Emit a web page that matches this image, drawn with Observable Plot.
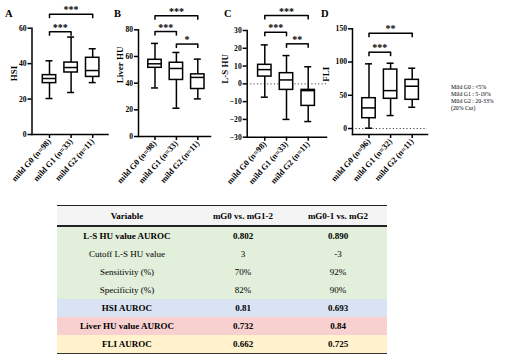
<!DOCTYPE html>
<html><head><meta charset="utf-8">
<script src="https://cdn.jsdelivr.net/npm/d3@7"></script>
<script src="https://cdn.jsdelivr.net/npm/@observablehq/plot@0.6"></script>
<style>
html,body{margin:0;padding:0;background:#fff;}
#root{position:relative;width:514px;height:361px;overflow:hidden;font-family:"Liberation Serif","Times New Roman",serif;color:#000;}
#root svg{position:absolute;left:0;top:0;}
.letter{position:absolute;font-weight:bold;font-size:10.5px;line-height:1;}
.legend{position:absolute;left:451px;top:84px;font-size:5.8px;line-height:7px;white-space:nowrap;}
#tbl{position:absolute;left:57px;top:205px;width:330px;border-collapse:collapse;table-layout:fixed;font-size:9px;}
#tbl th{height:19px;background:#f4f4f4;border-top:1.4px solid #222;border-bottom:2px solid #222;font-weight:bold;padding:0;text-align:center;}
#tbl td{height:18px;padding:0;text-align:center;}
#tbl tr:last-child td{border-bottom:1.6px solid #333;}
</style></head>
<body><div id="root"></div>
<script>
// ---------- data ----------
const groupsABC = ["mild G0 (n=98)", "mild G1 (n=33)", "mild G2 (n=11)"];
const groupsD = ["mild G0 (n=96)", "mild G1 (n=32)", "mild G2 (n=11)"];
// box statistics per group: [min, q1, median, q3, max]
const hsiStats   = [[20.3, 29.0, 31.6, 33.5, 41.6], [23.7, 35.0, 37.8, 40.6, 55.0], [29.3, 32.5, 36.1, 43.3, 48.4]];
const liverStats = [[36.4, 51.5, 54.5, 57.5, 69.8], [21.2, 42.4, 51.0, 55.3, 63.0], [28.2, 35.6, 44.3, 46.6, 58.0]];
const lsStats    = [[-7.5, 4.1, 8.0, 10.7, 21.9], [-20.0, -3.4, 2.2, 6.0, 15.9], [-21.2, -12.4, -3.8, -3.4, 9.6]];
const fliStats   = [[0.5, 15.5, 31.0, 45.6, 97.3], [19.5, 44.7, 57.0, 88.7, 98.2], [32.0, 43.2, 63.6, 73.2, 90.7]];
// significance brackets: [fromGroupIndex, toGroupIndex, y value, label]
const hsiSig   = [[0, 1, 58, "***"], [0, 2, 67.9, "***"]];
const liverSig = [[0, 2, 90.5, "***"], [0, 1, 78.7, "***"], [1, 2, 69.3, "*"]];
const lsSig    = [[0, 2, 38.4, "***"], [0, 1, 29, "***"], [1, 2, 22.5, "**"]];
const fliSig   = [[0, 2, 143.4, "**"], [0, 1, 114.8, "***"]];
const panelLetters = ["A", "B", "C", "D"];
const yTitles = ["HSI", "Liver HU", "L-S HU", "FLI"];
const yTicksA = [0, 20, 40, 60];
const yTicksB = [0, 20, 40, 60, 80];
const yTicksC = [-30, -20, -10, 0, 10, 20, 30];
const yTicksD = [0, 50, 100, 150];
const legendLines = ["Mild G0 : <5%", "Mild G1 : 5-19%", "Mild G2 : 20-33%", "(20% Cut)"];
// table
const tableHeader = ["Variable", "mG0 vs. mG1-2", "mG0-1 vs. mG2"];
const tableVariables = ["L-S HU value AUROC", "Cutoff L-S HU value", "Sensitivity (%)", "Specificity (%)", "HSI AUROC", "Liver HU value AUROC", "FLI AUROC"];
const colG0vsG12 = ["0.802", "3", "70%", "82%", "0.81", "0.732", "0.662"];
const colG01vsG2 = ["0.890", "-3", "92%", "90%", "0.693", "0.84", "0.725"];

// ---------- layout / style (not data) ----------
const W = 514, H = 200;
const rowBold = [true, false, false, false, true, true, true];
const rowFill = ["#e2efda", "#e2efda", "#e2efda", "#e2efda", "#dae3f3", "#f9d0d0", "#fff2cc"];
const panels = [
  {stats: hsiStats, sig: hsiSig, groups: groupsABC, domain: [0, 60], ticks: yTicksA, L: 31.5, R: 107.5, T: 27.7, B: 134, c0: 49, step: 21.6, titleX: 14, letterX: 5, zero: false},
  {stats: liverStats, sig: liverSig, groups: groupsABC, domain: [0, 80], ticks: yTicksB, L: 138, R: 210, T: 29.3, B: 136, c0: 154.5, step: 21.4, titleX: 119.5, letterX: 114, zero: false},
  {stats: lsStats, sig: lsSig, groups: groupsABC, domain: [-30, 30], ticks: yTicksC, L: 246.7, R: 326, T: 30, B: 136.7, c0: 264.3, step: 21.7, titleX: 225, letterX: 224, zero: true},
  {stats: fliStats, sig: fliSig, groups: groupsD, domain: [-9, 150], ticks: yTicksD, L: 352, R: 427, T: 28.3, B: 134, c0: 368.5, step: 21.6, titleX: 326, letterX: 321, zero: true}
];
const boxW = 13.4, capW = 7, SW = 1.5;

const root = document.getElementById("root");

panels.forEach((P, k) => {
  const n = P.groups.length;
  const p = 1 - boxW / P.step;
  const po = ((P.R - P.L) / P.step - n + p) / 2;
  const align = (P.c0 - boxW / 2 - P.L) / (P.R - P.L - P.step * (n - p));
  const boxes = P.stats.map((s, i) => ({g: P.groups[i], min: s[0], q1: s[1], med: s[2], q3: s[3], max: s[4]}));
  const brackets = P.sig.map(([a, b, y, label]) => ({ga: P.groups[a], gb: P.groups[b], span: b - a, y, label}));
  const ends = brackets.flatMap(d => [{g: d.ga, y: d.y}, {g: d.gb, y: d.y}]);
  const capInset = (boxW - capW) / 2;
  const marks = [];
  if (P.zero) marks.push(Plot.ruleY([0], {stroke: "#444", strokeWidth: 1, strokeDasharray: "1.2,2.2"}));
  marks.push(
    Plot.frame({anchor: "left", strokeWidth: SW}),
    Plot.frame({anchor: "bottom", strokeWidth: SW}),
    Plot.axisY({ticks: P.ticks, tickSize: 4, tickPadding: 1.5, fontSize: 7.6, fontWeight: "bold", label: null, strokeWidth: SW}),
    Plot.axisX({tickSize: 4, tickPadding: 1.5, tickRotate: -48, fontSize: 8.3, fontWeight: "bold", label: null, strokeWidth: SW}),
    Plot.ruleX(boxes, {x: "g", y1: "min", y2: "max", strokeWidth: SW}),
    Plot.barY(boxes, {x: "g", y1: "q1", y2: "q3", fill: "white", stroke: "black", strokeWidth: SW}),
    Plot.tickY(boxes, {x: "g", y: "med", strokeWidth: SW}),
    Plot.tickY(boxes, {x: "g", y: "min", strokeWidth: SW, insetLeft: capInset, insetRight: capInset}),
    Plot.tickY(boxes, {x: "g", y: "max", strokeWidth: SW, insetLeft: capInset, insetRight: capInset}),
    Plot.link(brackets, {x1: "ga", x2: "gb", y1: "y", y2: "y", strokeWidth: SW}),
    Plot.ruleX(ends, {x: "g", y1: "y", y2: "y", insetBottom: -4.5, strokeWidth: SW})
  );
  brackets.forEach(b => {
    marks.push(Plot.text([b], {x: "ga", y: "y", text: "label", dx: b.span * P.step / 2, dy: -4, fontSize: 10, fontWeight: "bold"}));
  });
  marks.push(Plot.text([yTitles[k]], {frameAnchor: "left", rotate: -90, dx: P.titleX - P.L, fontSize: 9, fontWeight: "bold"}));

  const svg = Plot.plot({
    width: W, height: H,
    marginLeft: P.L, marginRight: W - P.R, marginTop: P.T, marginBottom: H - P.B,
    style: {background: "transparent", fontFamily: "'Liberation Serif', 'Times New Roman', serif", color: "#000", overflow: "visible"},
    x: {type: "band", domain: P.groups, paddingInner: p, paddingOuter: po, align, round: false},
    y: {domain: P.domain},
    marks
  });
  root.appendChild(svg);

  const letter = document.createElement("div");
  letter.className = "letter";
  letter.textContent = panelLetters[k];
  letter.style.left = P.letterX + "px";
  letter.style.top = "9px";
  root.appendChild(letter);
});

const legend = document.createElement("div");
legend.className = "legend";
legendLines.forEach(t => { const d = document.createElement("div"); d.textContent = t; legend.appendChild(d); });
root.appendChild(legend);

// table
const tbl = document.createElement("table");
tbl.id = "tbl";
const cg = document.createElement("colgroup");
[140, 92, 98].forEach(w => { const c = document.createElement("col"); c.style.width = w + "px"; cg.appendChild(c); });
tbl.appendChild(cg);
const thead = tbl.createTHead().insertRow();
tableHeader.forEach(h => { const th = document.createElement("th"); th.textContent = h; thead.appendChild(th); });
const tb = tbl.createTBody();
tableVariables.forEach((v, i) => {
  const tr = tb.insertRow();
  [v, colG0vsG12[i], colG01vsG2[i]].forEach(t => {
    const td = tr.insertCell();
    td.textContent = t;
    td.style.background = rowFill[i];
    td.style.fontWeight = rowBold[i] ? "bold" : "normal";
  });
});
root.appendChild(tbl);
</script>
</body></html>
